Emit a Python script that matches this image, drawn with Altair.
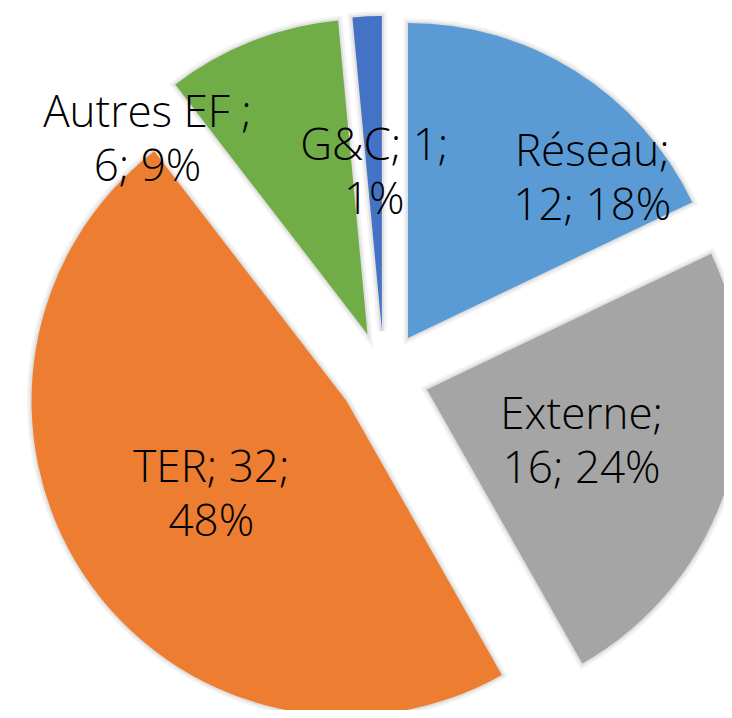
import math
import altair as alt
import pandas as pd

# ---- data -------------------------------------------------------------
categories = ["Réseau", "Externe", "TER", "Autres EF", "G&C"]
values = [12, 16, 32, 6, 1]
label_texts = ["Réseau;\n12; 18%", "Externe;\n16; 24%", "TER; 32;\n48%",
               "Autres EF ;\n6; 9%", "G&C; 1;\n1%"]
colors = ["#5B9BD5", "#A5A5A5", "#ED7D31", "#70AD47", "#4472C4"]

# ---- layout / style ---------------------------------------------------
W, H = 716, 702
CX, CY = 376, 368
R = 315
EXPLODE = 45
LINE_H = 54
# label placement: (angle in degrees from 12 o'clock, radius fraction) relative to slice apex
LABEL_PLACE = {"Réseau": (48.6, 0.78), "Autres EF": (312.0, 0.94)}
LABEL_DEFAULT_R = 0.515

total = sum(values)
rows = []
cum = 0
for cat, v, txt in zip(categories, values, label_texts):
    start, end = cum, cum + v
    cum = end
    mid = (start + end) / 2 / total * 2 * math.pi
    ox = EXPLODE / R * math.sin(mid)
    oy = EXPLODE / R * math.cos(mid)
    if cat in LABEL_PLACE:
        la = math.radians(LABEL_PLACE[cat][0])
        lr = LABEL_PLACE[cat][1]
    else:
        la, lr = mid, LABEL_DEFAULT_R
    rows.append(dict(category=cat, value=v, start=start, end=end, ox=ox, oy=oy,
                     lx=ox + lr * math.sin(la), ly=oy + lr * math.cos(la), label=txt))
df = pd.DataFrame(rows)

xs = alt.Scale(domain=[-1, 1], range=[CX - R, CX + R])
ys = alt.Scale(domain=[-1, 1], range=[CY + R, CY - R])
ts = alt.Scale(domain=[0, total], range=[0, 2 * math.pi])

base = alt.Chart(df)

pos = dict(
    x=alt.X("ox:Q", scale=xs, axis=None),
    y=alt.Y("oy:Q", scale=ys, axis=None),
    theta=alt.Theta("start:Q", scale=ts),
    theta2=alt.Theta2("end:Q"),
)

shadow1 = base.mark_arc(radius=R, fillOpacity=0, stroke="#000000",
                        strokeOpacity=0.05, strokeWidth=9).encode(**pos)
shadow2 = base.mark_arc(radius=R, fillOpacity=0, stroke="#000000",
                        strokeOpacity=0.07, strokeWidth=4).encode(**pos)
arcs = base.mark_arc(radius=R, stroke=None).encode(
    color=alt.Color("category:N", scale=alt.Scale(domain=categories, range=colors), legend=None),
    **pos,
)
labels = base.mark_text(font="Open Sans", fontWeight=300, fontSize=44, lineHeight=LINE_H,
                        color="#000000", align="center", baseline="middle",
                        dy=-LINE_H / 2 + 5, lineBreak="\n").encode(
    x=alt.X("lx:Q", scale=xs, axis=None),
    y=alt.Y("ly:Q", scale=ys, axis=None),
    text="label:N",
)

chart = alt.layer(shadow1, shadow2, arcs, labels).properties(
    width=W, height=H, padding=0, autosize=alt.AutoSizeParams(type="none"),
    background="white",
).configure_view(stroke=None)

chart.save("out.html", embed_options={"renderer": "svg", "actions": False})
